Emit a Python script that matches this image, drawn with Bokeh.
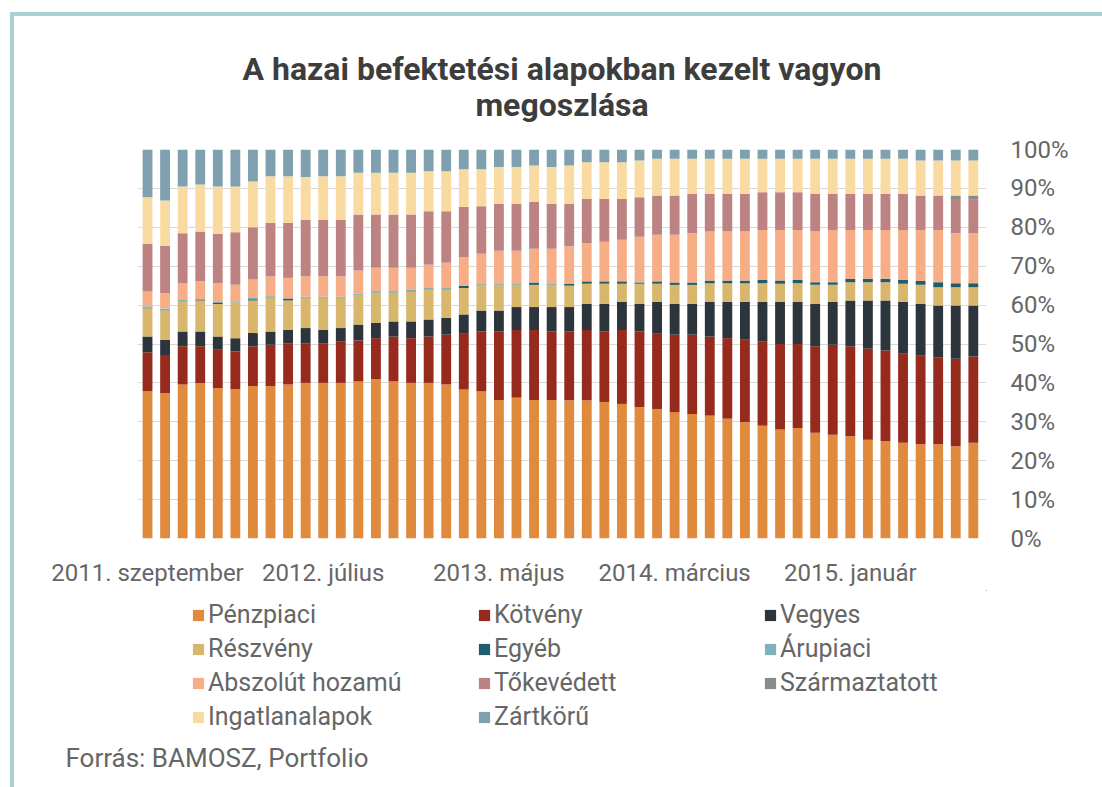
from bokeh.plotting import figure
from bokeh.models import (ColumnDataSource, Range1d, FixedTicker, Legend, LegendItem,
                          Title, Label)
from bokeh.layouts import column
from bokeh.embed import file_html
from bokeh.resources import INLINE

# ---------------- data (percent shares, Sept 2011 - Aug 2015, monthly) ----------------
series_names = ["Pénzpiaci", "Kötvény", "Vegyes", "Részvény", "Egyéb", "Árupiaci",
                "Abszolút hozamú", "Tőkevédett", "Származtatott", "Ingatlanalapok", "Zártkörű"]

penzpiaci = [37.9, 37.4, 39.6, 40.0, 38.7, 38.4, 39.2, 39.2, 39.6, 40.0, 40.0, 40.0,
             40.4, 40.9, 40.4, 40.0, 40.0, 39.6, 38.3, 37.9, 35.6, 36.2, 35.6, 35.6,
             35.5, 35.5, 35.1, 34.6, 33.8, 33.3, 32.5, 32.0, 31.6, 30.8, 29.9, 29.0,
             28.0, 28.4, 27.2, 26.7, 26.3, 25.4, 25.0, 24.6, 24.2, 24.2, 23.7, 24.6]
kotveny = [10.0, 9.8, 9.8, 9.4, 9.8, 9.7, 10.2, 10.6, 10.6, 10.2, 10.2, 10.6,
           10.5, 10.6, 11.5, 11.5, 11.9, 12.8, 14.5, 15.3, 17.6, 17.4, 18.0, 17.6,
           17.7, 18.1, 18.1, 19.0, 19.4, 19.5, 19.9, 20.4, 20.3, 20.7, 21.2, 21.6,
           22.0, 21.6, 22.2, 23.1, 23.1, 23.4, 23.3, 22.9, 22.8, 22.4, 22.5, 22.2]
vegyes = [4.0, 3.9, 3.8, 3.8, 3.4, 3.4, 3.4, 3.4, 3.4, 3.9, 3.4, 3.5,
          4.1, 3.9, 3.9, 4.3, 4.4, 4.3, 4.8, 5.4, 5.4, 5.9, 5.9, 6.3,
          6.3, 6.7, 7.1, 7.2, 7.1, 8.0, 7.9, 7.9, 8.9, 9.3, 9.7, 10.2,
          10.8, 10.8, 10.9, 11.0, 11.8, 12.4, 12.9, 13.3, 13.3, 13.3, 13.7, 13.1]
reszveny = [7.3, 7.5, 7.7, 8.0, 8.4, 9.2, 8.4, 8.6, 7.6, 7.7, 8.2, 7.7,
            7.6, 7.7, 7.3, 7.7, 7.6, 7.2, 6.8, 6.6, 6.6, 5.7, 5.7, 5.7,
            5.5, 5.2, 5.2, 4.7, 5.2, 4.7, 4.9, 4.9, 4.8, 4.8, 4.8, 4.8,
            4.7, 4.8, 4.9, 4.4, 4.7, 4.7, 4.7, 4.7, 4.9, 4.7, 4.7, 4.7]
egyeb = [0.1, 0.1, 0.1, 0.1, 0.4, 0.0, 0.3, 0.1, 0.5, 0.1, 0.1, 0.1,
         0.1, 0.1, 0.1, 0.1, 0.1, 0.1, 0.6, 0.1, 0.1, 0.1, 0.6, 0.1,
         0.5, 0.6, 0.6, 0.6, 0.3, 0.6, 0.6, 0.6, 0.7, 0.7, 0.7, 0.9,
         0.8, 0.9, 0.7, 0.7, 0.9, 0.9, 0.9, 1.0, 1.0, 1.3, 1.0, 1.0]
arupiaci = [0.4, 0.4, 0.3, 0.3, 0.1, 0.3, 0.5, 0.4, 0.0, 0.3, 0.3, 0.3,
            0.3, 0.4, 0.4, 0.3, 0.4, 0.4, 0.0, 0.3, 0.3, 0.3, 0.0, 0.3,
            0.1, 0.0, 0.0, 0.0, 0.3, 0.0, 0.0, 0.0, 0.0, 0.0, 0.0, 0.0,
            0.0, 0.0, 0.0, 0.0, 0.0, 0.0, 0.0, 0.0, 0.0, 0.0, 0.0, 0.0]
abszolut = [3.8, 4.0, 4.3, 4.6, 4.8, 4.2, 4.6, 5.1, 5.3, 5.2, 5.2, 5.2,
            5.9, 6.0, 6.0, 5.7, 6.0, 6.5, 7.3, 7.6, 8.4, 8.4, 8.7, 8.9,
            9.5, 9.8, 10.2, 10.7, 11.5, 12.0, 12.3, 12.7, 12.6, 12.6, 12.6, 12.8,
            13.0, 12.8, 13.0, 13.4, 12.5, 12.5, 12.5, 12.8, 13.1, 13.4, 12.9, 12.9]
tokevedett = [12.2, 12.1, 12.9, 12.7, 12.7, 13.5, 13.4, 13.7, 14.1, 14.5, 14.5, 14.5,
              14.4, 13.7, 13.7, 13.7, 13.7, 13.2, 12.9, 12.2, 12.0, 12.0, 12.0, 11.5,
              10.9, 11.4, 11.0, 10.5, 10.1, 10.1, 10.1, 10.1, 9.7, 9.7, 9.7, 9.7,
              9.7, 9.7, 9.7, 9.3, 9.3, 9.3, 9.3, 9.3, 8.9, 8.9, 8.8, 8.6]
szarmaztatott = [0.0] * 46 + [0.9, 1.1]
ingatlan = [12.0, 11.7, 12.0, 12.1, 12.2, 11.8, 11.8, 12.0, 12.0, 11.0, 11.2, 11.2,
            10.7, 10.7, 10.7, 10.7, 10.3, 10.3, 9.7, 9.5, 9.5, 9.5, 9.4, 9.5,
            9.9, 9.4, 9.4, 9.4, 9.5, 9.4, 9.4, 9.0, 9.0, 9.0, 9.0, 8.6,
            8.6, 8.6, 9.0, 9.0, 9.0, 9.0, 9.0, 9.0, 9.0, 9.0, 9.0, 9.0]
zartkoru = [12.3, 13.1, 9.5, 9.0, 9.5, 9.5, 8.2, 6.9, 6.9, 7.1, 6.9, 6.9,
            6.0, 6.0, 6.0, 6.0, 5.6, 5.6, 5.1, 5.1, 4.5, 4.5, 4.1, 4.5,
            4.1, 3.3, 3.3, 3.3, 2.8, 2.4, 2.4, 2.4, 2.4, 2.4, 2.4, 2.4,
            2.4, 2.4, 2.4, 2.4, 2.4, 2.4, 2.4, 2.4, 2.8, 2.8, 2.8, 2.8]

tick_positions = [0, 10, 20, 30, 40]
tick_labels = ["2011. szeptember", "2012. július", "2013. május", "2014. március", "2015. január"]

title_lines = ["A hazai befektetési alapokban kezelt vagyon", "megoszlása"]
source_note = "Forrás: BAMOSZ, Portfolio"

colors = ["#df8a3c", "#952a1d", "#2c343c", "#d8b76c", "#1d5d6c", "#7fb2ba",
          "#f7ad86", "#bd8383", "#8b8b8b", "#f9dba1", "#7fa1af"]

# ---------------- layout (page pixels) ----------------
OX, OY = 14, 16                # canvas origin on the page (inside the teal border)
W = 1102 - OX
TSPLIT, SPLIT = 130, 590       # page y where the chart / the legend figures start
H0, H1, H2 = TSPLIT - OY, SPLIT - TSPLIT, 787 - SPLIT
FL, FR, FT, FB = 137, 986, 149, 538
X0, X1 = -0.57, 47.75
TXT = "#666666"

keys = ["s%d" % i for i in range(len(series_names))]
data = dict(x=list(range(len(penzpiaci))))
for k, arr in zip(keys, [penzpiaci, kotveny, vegyes, reszveny, egyeb, arupiaci,
                         abszolut, tokevedett, szarmaztatott, ingatlan, zartkoru]):
    data[k] = arr
source = ColumnDataSource(data)


def blank(height, **kw):
    f = figure(width=W, height=height, output_backend="svg", toolbar_location=None,
               x_axis_location=None, y_axis_location=None, tools="", **kw)
    f.outline_line_color = None
    f.grid.visible = False
    f.background_fill_color = "white"
    f.border_fill_color = "white"
    return f


# ---------------- title figure ----------------
p0 = blank(H0, x_range=Range1d(0, 1), y_range=Range1d(0, H0),
           min_border_left=0, min_border_right=0, min_border_top=0, min_border_bottom=0)
for txt, yp in zip(title_lines, [68, 104]):
    p0.add_layout(Label(x=0.5, y=TSPLIT - yp, text=txt, text_align="center",
                        text_baseline="middle", text_font="Roboto", text_font_style="bold",
                        text_font_size="32px", text_color="#3d3d3d"))

# ---------------- chart ----------------
p = figure(width=W, height=H1, output_backend="svg", toolbar_location=None,
           x_range=Range1d(X0, X1), y_range=Range1d(0, 100),
           y_axis_location="right",
           min_border_left=FL - OX, min_border_right=OX + W - FR,
           min_border_top=FT - TSPLIT, min_border_bottom=SPLIT - FB, tools="")
p.outline_line_color = None
p.background_fill_color = "white"
p.border_fill_color = "white"

p.vbar_stack(keys, x="x", width=0.56, color=colors, line_color=None, source=source)

p.xgrid.grid_line_color = None
p.ygrid.grid_line_color = "#d9d9d9"
p.ygrid.grid_line_width = 1
p.ygrid.ticker = FixedTicker(ticks=list(range(0, 101, 10)))

ya = p.yaxis[0]
ya.ticker = FixedTicker(ticks=list(range(0, 101, 10)))
ya.major_label_overrides = {v: "%d%%" % v for v in range(0, 101, 10)}
xa = p.xaxis[0]
xa.ticker = FixedTicker(ticks=tick_positions)
xa.major_label_overrides = dict(zip(tick_positions, tick_labels))
for ax, so in ((ya, 24), (xa, 20)):
    ax.axis_line_color = None
    ax.major_tick_line_color = None
    ax.minor_tick_line_color = None
    ax.major_tick_out = 0
    ax.major_tick_in = 0
    ax.major_label_standoff = so
    ax.major_label_text_font = "Roboto"
    ax.major_label_text_font_size = "24px"
    ax.major_label_text_color = TXT

# ---------------- legend figure ----------------
# same stacked bars, kept fully outside the visible ranges, only to feed the legend glyphs
p2 = blank(H2, x_range=Range1d(-200, -199), y_range=Range1d(-200, -199),
           min_border_left=0, min_border_right=0, min_border_top=0, min_border_bottom=47)
legend_renderers = p2.vbar_stack(keys, x="x", width=0.56, color=colors, line_color=None,
                                 source=source)
order = [0, 3, 6, 9, 1, 4, 7, 10, 2, 5, 8]   # column-major fill -> row-major reading
items = [LegendItem(label=series_names[i], renderers=[legend_renderers[i]]) for i in order]
legend = Legend(items=items, ncols=3, location=(191 - FL, 9),
                label_text_font="Roboto", label_text_font_size="25px",
                label_text_color=TXT, glyph_width=14, glyph_height=14,
                label_width=264, label_height=25, spacing=5, label_standoff=3,
                padding=0, margin=0, border_line_color=None, background_fill_alpha=0)
p2.add_layout(legend, "center")

p2.add_layout(Title(text=source_note, align="left", offset=65 - FL,
                    text_font="Roboto", text_font_style="normal", text_font_size="26px",
                    text_color=TXT, standoff=0), "below")

layout = column(p0, p, p2, spacing=0)
layout.styles = {"margin-left": "10px", "margin-top": "12px",
                 "border-left": "4px solid #a9d1d5", "border-top": "4px solid #a9d1d5"}

open("out.html", "w").write(file_html(layout, INLINE))
